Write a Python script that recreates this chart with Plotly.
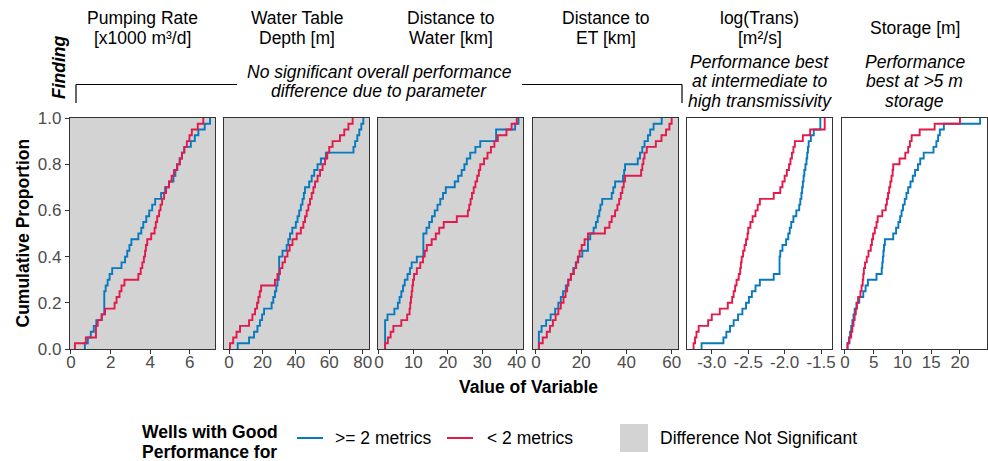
import plotly.graph_objects as go

# ---------------- data (sample values) ----------------
panel_titles = [["Pumping Rate", "[x1000 m³/d]"], ["Water Table", "Depth [m]"],
                ["Distance to", "Water [km]"], ["Distance to", "ET [km]"],
                ["log(Trans)", "[m²/s]"], ["Storage [m]"]]
significant = [False, False, False, False, True, True]
x_ticks = [[0, 2, 4, 6], [0, 20, 40, 60, 80], [0, 10, 20, 30, 40],
           [0, 20, 40, 60], [-3.0, -2.5, -2.0, -1.5], [0, 5, 10, 15, 20]]
x_ranges = [[-0.05, 7.27], [-3.0, 83.8], [-0.26, 41.8], [-1.3, 62.8],
            [-3.34, -1.35], [-0.5, 24.7]]
y_ticks = [0.0, 0.2, 0.4, 0.6, 0.8, 1.0]

pump_good = [0.7, 0.85, 1.0, 1.15, 1.28, 1.55, 1.68, 1.68, 1.68, 1.68, 1.75, 1.85, 1.95, 2.08,
             2.55, 2.73, 2.84, 2.95, 3.05, 3.4, 3.55, 3.65, 3.8, 3.95, 4.1, 4.25, 4.55, 4.75,
             4.95, 5.17, 5.27, 5.37, 5.48, 5.6, 5.72, 6.05, 6.25, 6.43, 6.75, 7.02]
pump_poor = [0.2, 0.75, 1.26, 1.26, 1.35, 1.55, 1.72, 2.2, 2.3, 2.45, 2.55, 2.7, 3.4, 3.52,
             3.6, 3.68, 3.74, 3.78, 3.85, 4.05, 4.22, 4.28, 4.35, 4.45, 4.52, 4.6, 4.7, 4.8,
             4.95, 5.08, 5.2, 5.35, 5.5, 5.6, 5.72, 5.85, 5.98, 6.1, 6.4, 6.68]

wtd_good = [5.2, 12, 15, 17, 18.5, 19.8, 21, 25.5, 26.5, 27.5, 28.3, 29, 29.8, 30, 30, 30,
            32, 34.5, 35.5, 36.5, 37.9, 40, 41, 42, 43, 44, 44.8, 45.5, 48, 49.5, 51, 53,
            55, 58, 74.5, 75.5, 76.8, 78, 79.2, 80.4]
wtd_poor = [0.6, 2.5, 4.5, 6.6, 12, 14, 15.6, 16.8, 17.6, 18.4, 19.2, 27.5, 29, 30.5, 32,
            33.5, 35, 36.3, 38, 40.5, 43, 44.5, 45.5, 46.5, 47.5, 48.5, 49.5, 50.5, 51.5,
            53, 54.5, 56, 57.5, 58.8, 60, 62, 66.4, 69, 71.5, 74]

dw_good = [1.8, 1.8, 1.8, 1.8, 1.8, 2.5, 4.5, 5.5, 6.0, 6.5, 7.0, 7.5, 8.3, 9.0, 9.5, 11,
           12.9, 12.9, 12.9, 12.9, 13.8, 14.6, 15.4, 16.2, 17, 17.8, 18.6, 19.4, 22, 23, 24,
           24.8, 25.5, 26.5, 28, 29.4, 34, 34, 39.5, 40.5]
dw_poor = [1.8, 2.6, 3.4, 4.2, 6.5, 8.2, 8.9, 9.1, 9.3, 9.5, 9.7, 9.9, 10.2, 11.0, 12.0,
           12.8, 13.3, 13.9, 15.3, 16.5, 17.5, 18.8, 22.6, 25.8, 26.2, 26.6, 27, 27.5, 28,
           28.5, 29, 29.4, 30.5, 31.5, 32.5, 33.5, 34.5, 37, 38.5, 40]

det_good = [1.3, 1.3, 1.3, 2.5, 4.5, 6.5, 8.5, 9.9, 11, 12, 13.2, 14.3, 15.4, 16.5, 17.6,
            18.7, 20.5, 23, 23, 24, 25.5, 26.5, 27.3, 28, 28.5, 29.3, 33.5, 34.2, 35, 38.5,
            39, 39.4, 45, 46, 47, 48, 49.5, 50.5, 52, 55.6]
det_poor = [1.3, 3, 4.8, 6.2, 7.5, 8.7, 9.9, 11, 12.2, 13.1, 13.8, 14.3, 15.5, 16.8, 17.8,
            18.5, 19.3, 20.2, 21.5, 23, 30.5, 32.5, 33.5, 35, 36, 36.8, 37.5, 38.2, 38.8,
            39.4, 46.5, 47, 47.5, 48, 49, 53, 55.5, 57.5, 59, 60]

trans_good = [-3.14, -2.84, -2.80, -2.75, -2.70, -2.64, -2.58, -2.53, -2.49, -2.45, -2.40,
              -2.34, -2.15, -2.07, -2.07, -2.07, -2.06, -2.03, -1.98, -1.95, -1.93, -1.91,
              -1.88, -1.84, -1.80, -1.785, -1.77, -1.76, -1.75, -1.74, -1.73, -1.715, -1.70,
              -1.69, -1.68, -1.67, -1.64, -1.60, -1.51, -1.51]
trans_poor = [-3.25, -3.23, -3.21, -3.18, -3.05, -3.0, -2.89, -2.78, -2.72, -2.70, -2.68,
              -2.66, -2.63, -2.61, -2.60, -2.59, -2.57, -2.55, -2.53, -2.51, -2.50, -2.47,
              -2.44, -2.40, -2.37, -2.34, -2.15, -2.06, -2.03, -2.0, -1.97, -1.94, -1.92,
              -1.90, -1.88, -1.86, -1.75, -1.65, -1.45, -1.45]

stor_good = [0.46, 0.7, 0.9, 1.1, 1.3, 1.5, 1.7, 2.0, 2.5, 3.2, 3.6, 4.0, 5.5, 6.4, 6.5,
             6.6, 6.7, 6.8, 6.95, 8.4, 8.9, 9.3, 9.6, 9.85, 10.1, 10.4, 10.7, 11.0, 11.4,
             11.8, 12.2, 12.7, 13.1, 13.7, 15.4, 15.9, 16.2, 16.5, 17.2, 23.5]
stor_poor = [0.46, 0.8, 1.1, 1.3, 1.5, 1.7, 1.9, 2.1, 2.3, 2.7, 2.9, 3.1, 3.2, 3.3, 3.5,
             3.8, 4.1, 4.5, 4.7, 4.9, 5.2, 5.5, 5.7, 6.5, 7.1, 7.3, 7.5, 7.7, 7.9, 8.1, 8.3,
             8.4, 9.5, 10.5, 11.0, 11.3, 11.6, 13.0, 15.6, 20.0]

good_series = [pump_good, wtd_good, dw_good, det_good, trans_good, stor_good]
poor_series = [pump_poor, wtd_poor, dw_poor, det_poor, trans_poor, stor_poor]

group_labels = [">= 2 metrics", "< 2 metrics"]
legend_title = ["Wells with Good", "Performance for"]
finding_none = ["No significant overall performance", "difference due to parameter"]
finding_trans = ["Performance best", "at intermediate to", "high transmissivity"]
finding_stor = ["Performance", "best at >5 m", "storage"]

# ---------------- styling ----------------
W, H = 988, 461
BLUE = "#0779BF"
RED = "#E2194B"
GREY_BG = "#D3D3D3"
FONT = "Liberation Sans, Arial, sans-serif"
panel_px = [(70, 215), (224, 369), (378, 523), (533, 678), (687, 832), (842, 987)]
top_px, bot_px = 118, 349


def px(x):
    return x / W


def py(y):
    return 1 - y / H


def ecdf(vals):
    s = sorted(vals)
    n = len(s)
    xs = [s[0]] + s
    ys = [0.0] + [(i + 1) / n for i in range(n)]
    return xs, ys


fig = go.Figure()
shapes = []
annotations = []
layout_axes = {}

for i in range(6):
    k = "" if i == 0 else str(i + 1)
    xa, ya = "x" + k, "y" + k
    for vals, col, name in [(good_series[i], BLUE, group_labels[0]),
                            (poor_series[i], RED, group_labels[1])]:
        xs, ys = ecdf(vals)
        fig.add_trace(go.Scatter(x=xs, y=ys, mode="lines", line=dict(color=col, width=1.9, shape="hv"),
                                 xaxis=xa, yaxis=ya, showlegend=False, name=name,
                                 cliponaxis=False))
    l, r = panel_px[i]
    layout_axes["xaxis" + k] = dict(
        domain=[px(l), px(r)], range=x_ranges[i], anchor=ya, tickmode="array",
        tickvals=x_ticks[i], ticktext=[("%.1f" % t) if i == 4 else str(t) for t in x_ticks[i]],
        showline=True, mirror=True, linecolor="#333333", linewidth=1.3,
        ticks="outside", ticklen=4, tickwidth=1.1, tickcolor="#333333", automargin=False,
        ticklabelstandoff=-7,
        tickfont=dict(family=FONT, size=17, color="#4D4D4D"), showgrid=False, zeroline=False)
    layout_axes["yaxis" + k] = dict(
        domain=[py(bot_px), py(top_px)], range=[0, 1], anchor=xa, automargin=False,
        showline=True, mirror=True, linecolor="#333333", linewidth=1.3,
        showgrid=False, zeroline=False,
        tickmode="array", tickvals=y_ticks, ticktext=["%.1f" % t for t in y_ticks],
        ticks="outside" if i == 0 else "", ticklen=4, tickwidth=1.1, tickcolor="#333333",
        showticklabels=(i == 0), tickfont=dict(family=FONT, size=17, color="#4D4D4D"))
    if not significant[i]:
        shapes.append(dict(type="rect", xref=xa + " domain", yref=ya + " domain",
                           x0=0, x1=1, y0=0, y1=1, fillcolor=GREY_BG, line=dict(width=0),
                           layer="below"))
    # column headers
    cx = (l + r) / 2
    t = panel_titles[i]
    ylines = [18, 38] if len(t) == 2 else [28]
    for txt, yy in zip(t, ylines):
        annotations.append(dict(text=txt, x=px(cx), y=py(yy), xref="paper", yref="paper",
                                showarrow=False, xanchor="center", yanchor="middle",
                                font=dict(family=FONT, size=17.5, color="#000000")))

# findings text
for lines, cx in [(finding_trans, (687 + 832) / 2), (finding_stor, (842 + 987) / 2)]:
    for txt, yy in zip(lines, [62, 81, 100.5]):
        annotations.append(dict(text="<i>" + txt + "</i>", x=px(cx), y=py(yy), xref="paper",
                                yref="paper", showarrow=False, xanchor="center", yanchor="middle",
                                font=dict(family=FONT, size=17.5, color="#000000")))
for txt, yy in zip(finding_none, [72, 91]):
    annotations.append(dict(text="<i>" + txt + "</i>", x=px(379), y=py(yy), xref="paper",
                            yref="paper", showarrow=False, xanchor="center", yanchor="middle",
                            font=dict(family=FONT, size=17.5, color="#000000")))
annotations.append(dict(text="<b><i>Finding</i></b>", x=px(59), y=py(68), xref="paper",
                        yref="paper", showarrow=False, textangle=-90, xanchor="center",
                        yanchor="middle", font=dict(family=FONT, size=17.5, color="#000000")))
# bracket lines
for (x0, y0, x1, y1) in [(76, 84.5, 76, 103), (76, 84.5, 237, 84.5),
                         (522, 84.5, 682, 84.5), (682, 84.5, 682, 103)]:
    shapes.append(dict(type="line", xref="paper", yref="paper", x0=px(x0), y0=py(y0),
                       x1=px(x1), y1=py(y1), line=dict(color="#000000", width=1.2)))

# axis titles
annotations.append(dict(text="<b>Cumulative Proportion</b>", x=px(22), y=py((top_px + bot_px) / 2),
                        xref="paper", yref="paper", showarrow=False, textangle=-90,
                        xanchor="center", yanchor="middle",
                        font=dict(family=FONT, size=17.5, color="#000000")))
annotations.append(dict(text="<b>Value of Variable</b>", x=px(528), y=py(387), xref="paper",
                        yref="paper", showarrow=False, xanchor="center", yanchor="middle",
                        font=dict(family=FONT, size=17.5, color="#000000")))

# legend
for txt, yy in zip(legend_title, [432, 452]):
    annotations.append(dict(text="<b>" + txt + "</b>", x=px(140), y=py(yy), xref="paper",
                            yref="paper", showarrow=False, xanchor="left", yanchor="middle",
                            font=dict(family=FONT, size=17.5, color="#000000")))
for (x0, x1, col), (tx, label) in zip([(297, 323, BLUE), (447, 473, RED)],
                                      [(333, group_labels[0]), (485, group_labels[1])]):
    shapes.append(dict(type="line", xref="paper", yref="paper", x0=px(x0), x1=px(x1),
                       y0=py(438), y1=py(438), line=dict(color=col, width=2)))
    annotations.append(dict(text=label, x=px(tx), y=py(438), xref="paper", yref="paper",
                            showarrow=False, xanchor="left", yanchor="middle",
                            font=dict(family=FONT, size=17.5, color="#000000")))
shapes.append(dict(type="rect", xref="paper", yref="paper", x0=px(620), x1=px(648),
                   y0=py(452), y1=py(424), fillcolor=GREY_BG, line=dict(width=0)))
annotations.append(dict(text="Difference Not Significant", x=px(658), y=py(438), xref="paper",
                        yref="paper", showarrow=False, xanchor="left", yanchor="middle",
                        font=dict(family=FONT, size=17.5, color="#000000")))

fig.update_layout(width=W, height=H, margin=dict(l=0, r=0, t=0, b=0, autoexpand=False),
                  paper_bgcolor="white", plot_bgcolor="white", showlegend=False,
                  shapes=shapes, annotations=annotations, **layout_axes)
fig.write_html("out.html", config={"displayModeBar": False},
               post_script="document.body.style.margin='0';document.body.style.padding='0';"
                           "document.body.style.overflow='hidden';"
                           "document.documentElement.style.overflow='hidden';")
